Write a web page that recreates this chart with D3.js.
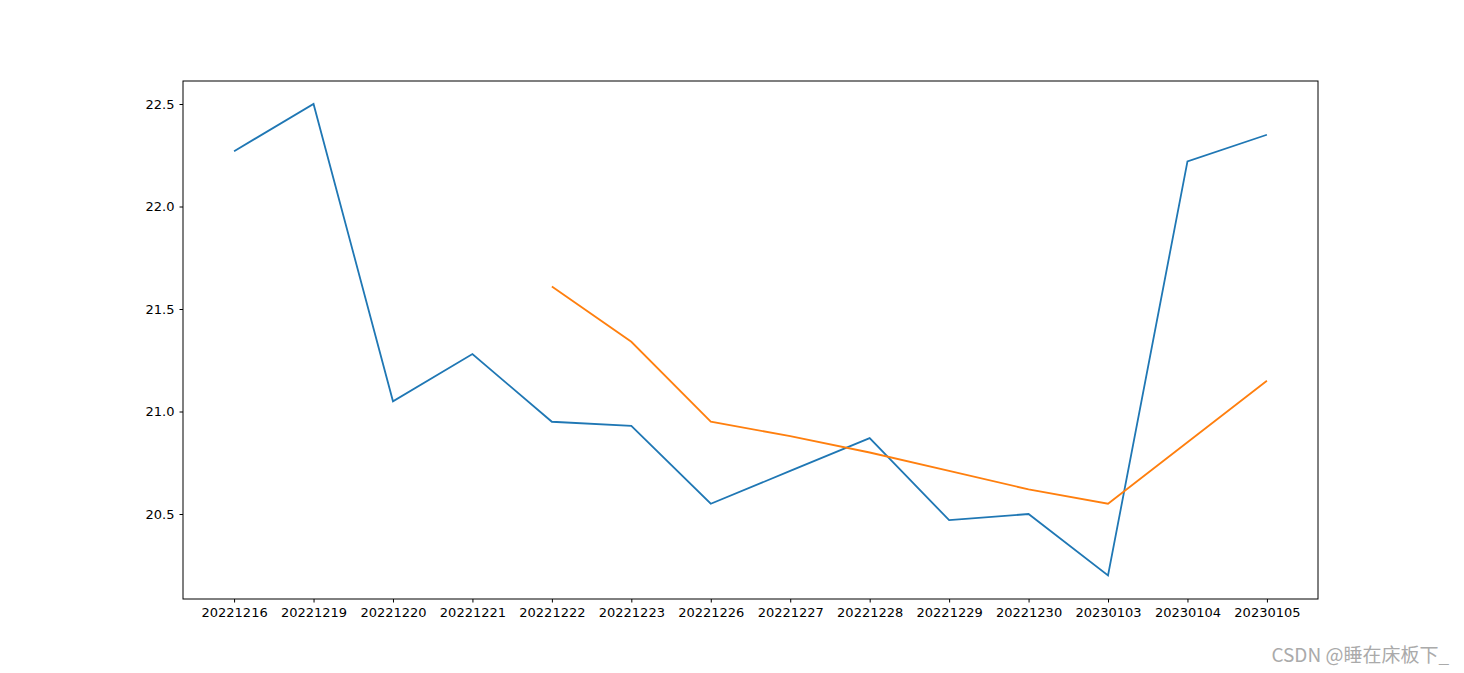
<!DOCTYPE html>
<html><head><meta charset="utf-8">
<script src="https://cdn.jsdelivr.net/npm/d3@7"></script>
<style>body{margin:0;background:#fff}</style></head>
<body><svg id="c" width="1464" height="673"></svg>
<script>
const categories=["20221216","20221219","20221220","20221221","20221222","20221223","20221226","20221227","20221228","20221229","20221230","20230103","20230104","20230105"];
const blueValues=[22.27,22.50,21.05,21.28,20.95,20.93,20.55,20.71,20.87,20.47,20.50,20.20,22.22,22.35];
const orangeValues=[null,null,null,null,21.61,21.34,20.95,20.88,20.80,20.71,20.62,20.55,20.85,21.15];
const yTicks=[20.5,21.0,21.5,22.0,22.5];

const svg=d3.select("#c");
const L=183,R=1318,T=81,B=599;
const pad=0.643;
const x=d3.scaleLinear().domain([-pad,categories.length-1+pad]).range([L,R]);
const y=d3.scaleLinear().domain([20.5-85/205,22.5+23/205]).range([B,T]);
const font="DejaVu Sans, sans-serif";

const xa=svg.append("g").attr("transform",`translate(0,${B})`)
 .call(d3.axisBottom(x).tickValues(d3.range(categories.length)).tickFormat(i=>categories[i]).tickSize(3.5).tickPadding(5));
const ya=svg.append("g").attr("transform",`translate(${L},0)`)
 .call(d3.axisLeft(y).tickValues(yTicks).tickFormat(d3.format(".1f")).tickSize(3.5).tickPadding(5));
[xa,ya].forEach(a=>{a.select(".domain").remove();a.selectAll("text").attr("font-family",font).attr("font-size",13).attr("fill","#000");a.selectAll("line").attr("stroke","#000");});
svg.append("rect").attr("x",L).attr("y",T).attr("width",R-L).attr("height",B-T).attr("fill","none").attr("stroke","#000").attr("stroke-width",1);

const line=d3.line().defined(d=>d!=null).x((d,i)=>x(i)).y(d=>y(d));
svg.append("path").datum(blueValues).attr("d",line).attr("fill","none").attr("stroke","#1f77b4").attr("stroke-width",1.8);
svg.append("path").datum(orangeValues).attr("d",line).attr("fill","none").attr("stroke","#ff7f0e").attr("stroke-width",1.8);

svg.append("text").attr("x",1449).attr("y",662).attr("text-anchor","end").attr("font-family","Noto Sans CJK SC, sans-serif").attr("font-size",19).attr("fill","#aaa").text("CSDN @睡在床板下_");
</script></body></html>
